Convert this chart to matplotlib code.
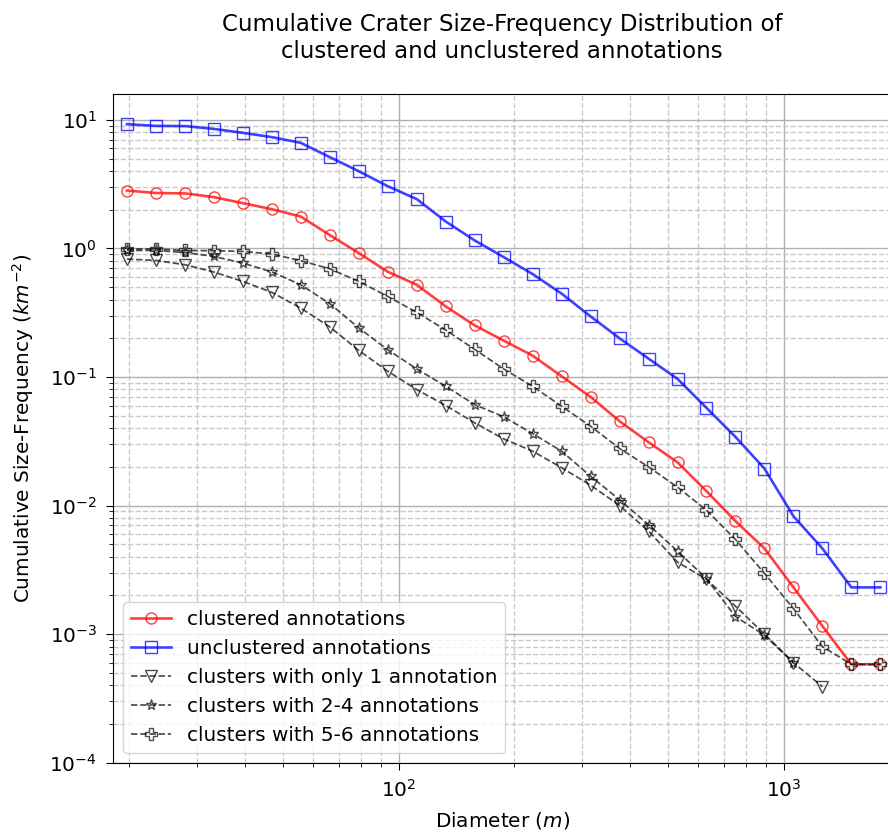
import numpy as np
from matplotlib import pyplot as plt

diam = [19.7, 23.4, 27.9, 33.1, 39.4, 46.9, 55.7, 66.3, 78.8, 93.7,
        111.5, 132.6, 157.7, 187.5, 223.0, 265.2, 315.4, 375.1, 446.0,
        530.4, 630.8, 750.1, 892.1, 1060.9, 1261.6, 1500.3, 1784.2]

clustered = [2.82, 2.70, 2.68, 2.51, 2.25, 2.02, 1.77, 1.27, 0.921, 0.659,
             0.522, 0.354, 0.252, 0.192, 0.1466, 0.1013, 0.070, 0.0453, 0.0311,
             0.0217, 0.01294, 0.00757, 0.00464, 0.00231, 0.001156, 0.000582, 0.000582]
unclustered = [9.26, 8.98, 8.95, 8.51, 7.93, 7.34, 6.63, 5.13, 3.99, 3.05,
               2.42, 1.62, 1.154, 0.857, 0.632, 0.445, 0.296, 0.200, 0.139,
               0.0967, 0.0575, 0.0342, 0.0194, 0.00827, 0.00464, 0.00231, 0.00231]
only1 = [0.827, 0.807, 0.747, 0.656, 0.554, 0.455, 0.344, 0.245, 0.161, 0.111,
         0.0798, 0.060, 0.044, 0.033, 0.0265, 0.0197, 0.0144, 0.0100, 0.00633,
         0.00363, 0.00267, 0.00165, 0.00100, 0.00060, 0.00039]
two_four = [0.965, 0.965, 0.93, 0.867, 0.77, 0.656, 0.522, 0.372, 0.241, 0.163,
            0.1156, 0.0847, 0.061, 0.049, 0.0363, 0.0265, 0.0169, 0.0111, 0.0071,
            0.00442, 0.0027, 0.00137, 0.00098, 0.00060]
five_six = [0.99, 0.99, 0.965, 0.96, 0.948, 0.905, 0.803, 0.695, 0.554, 0.424,
            0.318, 0.232, 0.164, 0.1156, 0.0847, 0.0592, 0.0414, 0.0278, 0.0200,
            0.0139, 0.0092, 0.00545, 0.00297, 0.00158, 0.00080, 0.000582, 0.000582]

plt.rcParams['font.size'] = 14.4

fig = plt.figure(figsize=(8.88, 8.34), dpi=100)
ax = fig.add_axes([0.127, 0.0855, 0.877, 0.8018])

ax.plot(diam, clustered, 'o-', color='r', alpha=0.75, lw=1.9, ms=8,
        mfc='none', label='clustered annotations')
ax.plot(diam, unclustered, 's-', color='b', alpha=0.75, lw=1.9, ms=8,
        mfc='none', label='unclustered annotations')
ax.plot(diam[:len(only1)], only1, 'v--', color='k', alpha=0.7, lw=1.25, ms=8,
        mfc='none', label='clusters with only 1 annotation')
ax.plot(diam[:len(two_four)], two_four, '*--', color='k', alpha=0.7, lw=1.25, ms=8,
        mfc='none', label='clusters with 2-4 annotations')
ax.plot(diam, five_six, 'P--', color='k', alpha=0.7, lw=1.25, ms=8,
        mfc='none', label='clusters with 5-6 annotations')

ax.set_xscale('log')
ax.set_yscale('log')
ax.set_xlim(18.1, 1908)
ax.set_ylim(1e-4, 15.9)

ax.tick_params(which='major', length=5, pad=6.5)
ax.tick_params(which='minor', length=3)

ax.grid(True, which='major', color='#b0b0b0', lw=1)
ax.grid(True, which='minor', color='#c8c8c8', ls='--', lw=1)

ax.set_xlabel('Diameter ($m$)', labelpad=7)
ax.set_ylabel('Cumulative Size-Frequency ($km^{-2}$)', labelpad=10)
ax.set_title('Cumulative Crater Size-Frequency Distribution of\nclustered and unclustered annotations',
             fontsize=16.5, pad=26)
ax.legend(loc='lower left', fontsize=14.4)

fig.savefig('out.png', dpi=100)
